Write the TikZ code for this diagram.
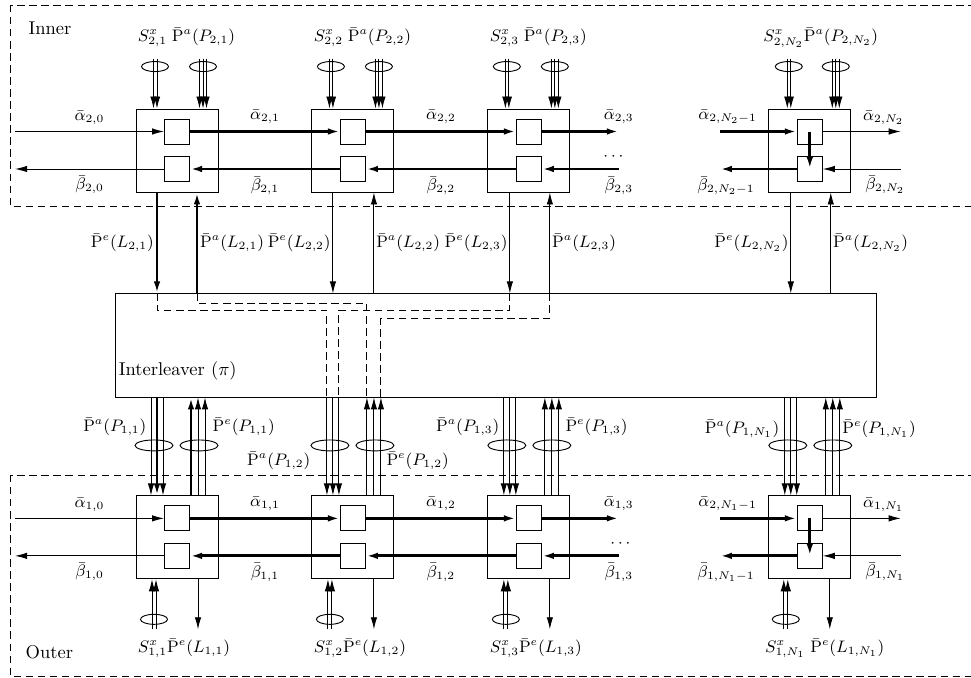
\documentclass[tikz,border=0pt]{standalone}
\usepackage{amsmath}
\usetikzlibrary{positioning,arrows.meta,calc,shapes.geometric}
\newcommand{\pbar}{\bar{\mathrm{P}}}

\begin{document}
\begin{tikzpicture}[x=0.54pt,y=-0.54pt,line width=0.5pt,font=\fontsize{8.6}{10}\selectfont]
  \tikzstyle{blk}=[draw,minimum width=44.3pt,minimum height=44.8pt,inner sep=0pt]
  \tikzstyle{cell}=[draw,minimum size=13.5pt,inner sep=0pt]
  \tikzstyle{bnd}=[draw,ellipse,minimum width=14.6pt,minimum height=5.4pt,inner sep=0pt]
  \tikzstyle{wbnd}=[draw,ellipse,minimum width=20.5pt,minimum height=5.9pt,inner sep=0pt]
  \tikzstyle{fl}=[-{Latex[length=6.5pt,width=3.5pt]}]
  \tikzstyle{hv}=[line width=1.5pt]
  \tikzstyle{dsh}=[dash pattern=on 4pt off 2.5pt]
  \useasboundingbox (0,0) rectangle (971,677);
  % the two decoder regions
  \draw[dsh] (10,5) rectangle (990,206);
  \draw[dsh] (10,475) rectangle (990,676);
  \node[right,font=\normalsize] (inn) at (22,28) {Inner};
  \node[right,font=\normalsize] (outr) at (19,652) {Outer};
  % blocks
  \node[blk] (b21) at (177,150.5) {};
  \node[blk] (b22) [right=50.2pt of b21] {};
  \node[blk] (b23) [right=50.2pt of b22] {};
  \node[blk] (b2N) [right=106.9pt of b23] {};
  \node[blk] (b11) [below=163.6pt of b21] {};
  \node[blk] (b12) [right=50.2pt of b11] {};
  \node[blk] (b13) [right=50.2pt of b12] {};
  \node[blk] (b1N) [right=106.9pt of b13] {};
  \node[cell] (f21) at ($(b21)+(0,-19)$) {};
  \node[cell] (r21) at ($(b21)+(0,18.5)$) {};
  \node[cell] (f22) at ($(b22)+(0,-19)$) {};
  \node[cell] (r22) at ($(b22)+(0,18.5)$) {};
  \node[cell] (f23) at ($(b23)+(0,-19)$) {};
  \node[cell] (r23) at ($(b23)+(0,18.5)$) {};
  \node[cell] (f2N) at ($(b2N)+(0,-19)$) {};
  \node[cell] (r2N) at ($(b2N)+(0,18.5)$) {};
  \node[cell] (f11) at ($(b11)+(0,-19)$) {};
  \node[cell] (r11) at ($(b11)+(0,18.5)$) {};
  \node[cell] (f12) at ($(b12)+(0,-19)$) {};
  \node[cell] (r12) at ($(b12)+(0,18.5)$) {};
  \node[cell] (f13) at ($(b13)+(0,-19)$) {};
  \node[cell] (r13) at ($(b13)+(0,18.5)$) {};
  \node[cell] (f1N) at ($(b1N)+(0,-19)$) {};
  \node[cell] (r1N) at ($(b1N)+(0,18.5)$) {};
  % interleaver
  \node[draw,minimum width=410.9pt,minimum height=56.2pt,inner sep=0pt] (intl) at (495.5,345) {};
  \node[right,inner xsep=1pt,font=\normalsize] (intlab) at ($(intl.south west)+(2,-27)$) {Interleaver ($\pi$)};
  % inner chain
  \draw[fl] ($(f21.west)+(-149,0)$) -- node[above] {$\bar\alpha_{2,0}$} (f21);
  \draw[fl] (r21) -- node[below] {$\bar\beta_{2,0}$} ($(r21.west)+(-149,0)$);
  \draw[fl,hv] (f21) -- node[above] {$\bar\alpha_{2,1}$} (f22);
  \draw[fl,hv] (r22) -- node[below] {$\bar\beta_{2,1}$} (r21);
  \draw[fl,hv] (f22) -- node[above] {$\bar\alpha_{2,2}$} (f23);
  \draw[fl,hv] (r23) -- node[below] {$\bar\beta_{2,2}$} (r22);
  \draw[fl,hv] (f23) -- ($(f23.east)+(77,0)$) node[above] {$\bar\alpha_{2,3}$};
  \draw[fl,hv] ($(r23.east)+(77,0)$) node[below] {$\bar\beta_{2,3}$} -- (r23);
  \node (dt2) at ($(b23)+(86,6.5)$) {$\cdots$};
  \draw[fl,hv] ($(f2N.west)+(-77,0)$) -- node[pos=0.1,above] {$\bar\alpha_{2,N_2-1}$} (f2N);
  \draw[fl] (f2N) -- node[pos=0.78,above] {$\bar\alpha_{2,N_2}$} ($(f2N.east)+(78,0)$);
  \draw[fl] ($(r2N.east)+(78,0)$) -- node[pos=0.2,below] {$\bar\beta_{2,N_2}$} (r2N);
  \draw[fl,hv] (r2N) -- node[pos=0.92,below] {$\bar\beta_{2,N_2-1}$} ($(r2N.west)+(-77,0)$);
  \draw[fl,hv] (f2N.center) -- (r2N.center);
  % inner inputs
  \node[bnd] (s21) at ($(b21.north)+(-22,-42)$) {};
  \node[bnd] (p21) at ($(b21.north)+(26,-42)$) {};
  \node (t21) at ($(b21.north)+(9.5,-71)$) {$S^x_{2,1}\;\pbar^a(P_{2,1})$};
  \draw[fl] ($(b21.north)+(-23.5,-50)$) -- ++(0,50);
  \draw[fl] ($(b21.north)+(-20,-50)$) -- ++(0,50);
  \draw[fl] ($(b21.north)+(22.5,-50)$) -- ++(0,50);
  \draw[fl] ($(b21.north)+(26,-50)$) -- ++(0,50);
  \draw[fl] ($(b21.north)+(29.5,-50)$) -- ++(0,50);
  \node[bnd] (s22) at ($(b22.north)+(-22,-42)$) {};
  \node[bnd] (p22) at ($(b22.north)+(26,-42)$) {};
  \node (t22) at ($(b22.north)+(9.5,-71)$) {$S^x_{2,2}\;\pbar^a(P_{2,2})$};
  \draw[fl] ($(b22.north)+(-23.5,-50)$) -- ++(0,50);
  \draw[fl] ($(b22.north)+(-20,-50)$) -- ++(0,50);
  \draw[fl] ($(b22.north)+(22.5,-50)$) -- ++(0,50);
  \draw[fl] ($(b22.north)+(26,-50)$) -- ++(0,50);
  \draw[fl] ($(b22.north)+(29.5,-50)$) -- ++(0,50);
  \node[bnd] (s23) at ($(b23.north)+(-22,-42)$) {};
  \node[bnd] (p23) at ($(b23.north)+(26,-42)$) {};
  \node (t23) at ($(b23.north)+(9.5,-71)$) {$S^x_{2,3}\;\pbar^a(P_{2,3})$};
  \draw[fl] ($(b23.north)+(-23.5,-50)$) -- ++(0,50);
  \draw[fl] ($(b23.north)+(-20,-50)$) -- ++(0,50);
  \draw[fl] ($(b23.north)+(22.5,-50)$) -- ++(0,50);
  \draw[fl] ($(b23.north)+(26,-50)$) -- ++(0,50);
  \draw[fl] ($(b23.north)+(29.5,-50)$) -- ++(0,50);
  \node[bnd] (s2N) at ($(b2N.north)+(-21,-42)$) {};
  \node[bnd] (p2N) at ($(b2N.north)+(26,-42)$) {};
  \node (t2N) at ($(b2N.north)+(11,-71)$) {$S^x_{2,N_2}\pbar^a(P_{2,N_2})$};
  \draw[fl] ($(b2N.north)+(-22.5,-50)$) -- ++(0,50);
  \draw[fl] ($(b2N.north)+(-19,-50)$) -- ++(0,50);
  \draw[fl] ($(b2N.north)+(22.5,-50)$) -- ++(0,50);
  \draw[fl] ($(b2N.north)+(26,-50)$) -- ++(0,50);
  \draw[fl] ($(b2N.north)+(29.5,-50)$) -- ++(0,50);
  % inner <-> interleaver
  \draw[fl,hv] ($(b21.south)+(-20,0)$) -- node[left,inner xsep=1pt] {$\pbar^e(L_{2,1})$} ++(0,101);
  \draw[fl,hv] ($(b21.south)+(20,101)$) -- node[right,inner xsep=1pt] {$\pbar^a(L_{2,1})$} ++(0,-101);
  \draw[fl] ($(b22.south)+(-20,0)$) -- node[left,inner xsep=1pt] {$\pbar^e(L_{2,2})$} ++(0,101);
  \draw[fl] ($(b22.south)+(21,101)$) -- node[right,inner xsep=1pt] {$\pbar^a(L_{2,2})$} ++(0,-101);
  \draw[fl] ($(b23.south)+(-19,0)$) -- node[left,inner xsep=1pt] {$\pbar^e(L_{2,3})$} ++(0,101);
  \draw[fl] ($(b23.south)+(21,101)$) -- node[right,inner xsep=1pt] {$\pbar^a(L_{2,3})$} ++(0,-101);
  \draw[fl] ($(b2N.south)+(-19,0)$) -- node[left,inner xsep=1pt] {$\pbar^e(L_{2,N_2})$} ++(0,101);
  \draw[fl] ($(b2N.south)+(21,101)$) -- node[right,inner xsep=1pt] {$\pbar^a(L_{2,N_2})$} ++(0,-101);
  % routes through the interleaver
  \draw[dsh] ($(b21.south)+(-20,101)$) -- ++(0,17) -| ($(b12.north)+(-26,-98)$);
  \draw[dsh] ($(b21.south)+(20,101)$) -- ++(0,10) -| ($(b12.north)+(14,-98)$);
  \draw[dsh] ($(b23.south)+(-19,101)$) -- ++(0,17) -| ($(b12.north)+(-14,-98)$);
  \draw[dsh] ($(b23.south)+(21,101)$) -- ++(0,25) -| ($(b12.north)+(28,-98)$);
  % interleaver -> outer
  \node[wbnd] (q11) at ($(b11.north)+(-23,-50)$) {};
  \node[wbnd] (w11) at ($(b11.north)+(22,-50)$) {};
  \draw[fl] ($(b11.north)+(-26,-98)$) -- ++(0,98);
  \draw[fl,hv] ($(b11.north)+(-20,-98)$) -- ++(0,98);
  \draw[fl] ($(b11.north)+(-14,-98)$) -- ++(0,98);
  \draw[fl,hv] ($(b11.north)+(14,0)$) -- ++(0,-98);
  \draw[fl] ($(b11.north)+(21,0)$) -- ++(0,-98);
  \draw[fl] ($(b11.north)+(28,0)$) -- ++(0,-98);
  \node[anchor=east] (la11) at ($(b11)+(-24,-110.5)$) {$\pbar^a(P_{1,1})$};
  \node[anchor=west] (le11) at ($(b11)+(29,-110.5)$) {$\pbar^e(P_{1,1})$};
  \node[wbnd] (q12) at ($(b12.north)+(-23,-50)$) {};
  \node[wbnd] (w12) at ($(b12.north)+(22,-50)$) {};
  \draw[fl] ($(b12.north)+(-26,-98)$) -- ++(0,98);
  \draw[fl] ($(b12.north)+(-20,-98)$) -- ++(0,98);
  \draw[fl] ($(b12.north)+(-14,-98)$) -- ++(0,98);
  \draw[fl] ($(b12.north)+(14,0)$) -- ++(0,-98);
  \draw[fl] ($(b12.north)+(21,0)$) -- ++(0,-98);
  \draw[fl] ($(b12.north)+(28,0)$) -- ++(0,-98);
  \node[anchor=east] (la12) at ($(b12)+(-36,-76.5)$) {$\pbar^a(P_{1,2})$};
  \node[anchor=west] (le12) at ($(b12)+(27,-76.5)$) {$\pbar^e(P_{1,2})$};
  \node[wbnd] (q13) at ($(b13.north)+(-22,-50)$) {};
  \node[wbnd] (w13) at ($(b13.north)+(23,-50)$) {};
  \draw[fl] ($(b13.north)+(-25,-98)$) -- ++(0,98);
  \draw[fl] ($(b13.north)+(-19,-98)$) -- ++(0,98);
  \draw[fl] ($(b13.north)+(-13,-98)$) -- ++(0,98);
  \draw[fl] ($(b13.north)+(16,0)$) -- ++(0,-98);
  \draw[fl] ($(b13.north)+(23,0)$) -- ++(0,-98);
  \draw[fl] ($(b13.north)+(30,0)$) -- ++(0,-98);
  \node[anchor=east] (la13) at ($(b13)+(-23,-110.5)$) {$\pbar^a(P_{1,3})$};
  \node[anchor=west] (le13) at ($(b13)+(30,-110.5)$) {$\pbar^e(P_{1,3})$};
  \node[wbnd] (q1N) at ($(b1N.north)+(-22,-50)$) {};
  \node[wbnd] (w1N) at ($(b1N.north)+(23,-50)$) {};
  \draw[fl] ($(b1N.north)+(-25,-98)$) -- ++(0,98);
  \draw[fl] ($(b1N.north)+(-19,-98)$) -- ++(0,98);
  \draw[fl] ($(b1N.north)+(-13,-98)$) -- ++(0,98);
  \draw[fl] ($(b1N.north)+(16,0)$) -- ++(0,-98);
  \draw[fl] ($(b1N.north)+(23,0)$) -- ++(0,-98);
  \draw[fl] ($(b1N.north)+(30,0)$) -- ++(0,-98);
  \node[anchor=east] (la1N) at ($(b1N)+(-24,-108.5)$) {$\pbar^a(P_{1,N_1})$};
  \node[anchor=west] (le1N) at ($(b1N)+(26,-108.5)$) {$\pbar^e(P_{1,N_1})$};
  % outer chain
  \draw[fl] ($(f11.west)+(-149,0)$) -- node[above] {$\bar\alpha_{1,0}$} (f11);
  \draw[fl] (r11) -- node[below] {$\bar\beta_{1,0}$} ($(r11.west)+(-149,0)$);
  \draw[fl,hv] (f11) -- node[above] {$\bar\alpha_{1,1}$} (f12);
  \draw[fl,hv] (r12) -- node[below] {$\bar\beta_{1,1}$} (r11);
  \draw[fl,hv] (f12) -- node[above] {$\bar\alpha_{1,2}$} (f13);
  \draw[fl,hv] (r13) -- node[below] {$\bar\beta_{1,2}$} (r12);
  \draw[fl,hv] (f13) -- ($(f13.east)+(77,0)$) node[above] {$\bar\alpha_{1,3}$};
  \draw[fl,hv] ($(r13.east)+(77,0)$) node[below] {$\bar\beta_{1,3}$} -- (r13);
  \node (dt1) at ($(b13)+(93,6.5)$) {$\cdots$};
  \draw[fl,hv] ($(f1N.west)+(-77,0)$) -- node[pos=0.1,above] {$\bar\alpha_{2,N_1-1}$} (f1N);
  \draw[fl] (f1N) -- node[pos=0.78,above] {$\bar\alpha_{1,N_1}$} ($(f1N.east)+(78,0)$);
  \draw[fl] ($(r1N.east)+(78,0)$) -- node[pos=0.2,below] {$\bar\beta_{1,N_1}$} (r1N);
  \draw[fl,hv] (r1N) -- node[pos=0.92,below] {$\bar\beta_{1,N_1-1}$} ($(r1N.west)+(-77,0)$);
  \draw[fl,hv] (f1N.center) -- (r1N.center);
  % outer inputs and outputs
  \node[bnd] (x11) at ($(b11.south)+(-23,40)$) {};
  \draw[fl] ($(b11.south)+(-25,50)$) -- ++(0,-50);
  \draw[fl] ($(b11.south)+(-21,50)$) -- ++(0,-50);
  \draw[fl] ($(b11.south)+(21,0)$) -- ++(0,50);
  \node (lb11) at ($(b11.south)+(7,69)$) {$S^x_{1,1}\pbar^e(L_{1,1})$};
  \node[bnd] (x12) at ($(b12.south)+(-23,40)$) {};
  \draw[fl] ($(b12.south)+(-25,50)$) -- ++(0,-50);
  \draw[fl] ($(b12.south)+(-21,50)$) -- ++(0,-50);
  \draw[fl] ($(b12.south)+(21,0)$) -- ++(0,50);
  \node (lb12) at ($(b12.south)+(7,69)$) {$S^x_{1,2}\pbar^e(L_{1,2})$};
  \node[bnd] (x13) at ($(b13.south)+(-23,40)$) {};
  \draw[fl] ($(b13.south)+(-25,50)$) -- ++(0,-50);
  \draw[fl] ($(b13.south)+(-21,50)$) -- ++(0,-50);
  \draw[fl] ($(b13.south)+(21,0)$) -- ++(0,50);
  \node (lb13) at ($(b13.south)+(7,69)$) {$S^x_{1,3}\pbar^e(L_{1,3})$};
  \node[bnd] (x1N) at ($(b1N.south)+(-24,40)$) {};
  \draw[fl] ($(b1N.south)+(-26,50)$) -- ++(0,-50);
  \draw[fl] ($(b1N.south)+(-22,50)$) -- ++(0,-50);
  \draw[fl] ($(b1N.south)+(20,0)$) -- ++(0,50);
  \node (lb1N) at ($(b1N.south)+(15,69)$) {$S^x_{1,N_1}\;\pbar^e(L_{1,N_1})$};
\end{tikzpicture}
\end{document}
